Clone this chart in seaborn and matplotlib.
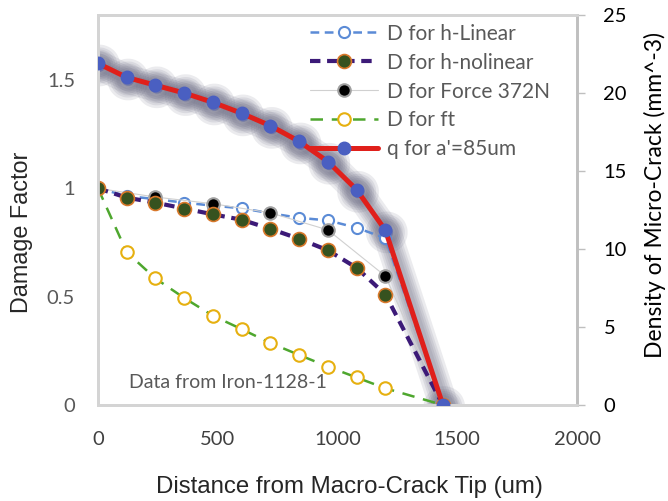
"""
Damage factor and micro-crack density vs distance from macro-crack tip.
"""

import numpy as np
import pandas as pd
import matplotlib
matplotlib.use("Agg")
import matplotlib.pyplot as plt
import matplotlib.patheffects as pe
from matplotlib.lines import Line2D
import seaborn as sns

# ---- data ----
distance = [0, 120, 240, 360, 480, 600, 720, 840, 960, 1080, 1200, 1440]
d_h_linear = [1.0, 0.965, 0.95, 0.934, 0.92, 0.908, 0.885, 0.864, 0.852, 0.818, 0.77, 0.0]
d_h_nolinear = [1.0, 0.957, 0.934, 0.907, 0.88, 0.855, 0.813, 0.767, 0.714, 0.633, 0.51, 0.0]
force_distance = [0, 240, 480, 720, 960, 1200, 1440]
d_force_372 = [1.0, 0.96, 0.929, 0.887, 0.808, 0.595, 0.0]
d_ft = [1.0, 0.705, 0.584, 0.494, 0.412, 0.35, 0.286, 0.231, 0.177, 0.127, 0.077, 0.0]
q_density = [21.9, 21.0, 20.5, 20.0, 19.4, 18.7, 17.9, 16.9, 15.6, 13.8, 11.2, 0.0]

labels = ["D for h-Linear", "D for h-nolinear", "D for Force 372N",
          "D for ft", "q for a'=85um"]

sns.set_style("white")
plt.rcParams["font.family"] = ["Lato", "DejaVu Sans"]

fig = plt.figure(figsize=(6.68, 5.01), dpi=100)
ax = fig.add_axes([0.1467, 0.1916, 0.7171, 0.7784])
ax2 = ax.twinx()

# h-linear
lin_style = dict(color="#5b8bd6", linestyle=(0, (3.5, 2.2)), linewidth=1.8,
                 marker="o", markersize=8, markerfacecolor="white",
                 markeredgecolor="#5b8bd6", markeredgewidth=1.5)
sns.lineplot(x=distance, y=d_h_linear, ax=ax, zorder=2, **lin_style)

# force 372N
force_style = dict(color="#d0d0d0", linestyle="-", linewidth=0.8,
                   marker="o", markersize=9, markerfacecolor="black",
                   markeredgecolor="#a0a0a0", markeredgewidth=1.5)
sns.lineplot(x=force_distance, y=d_force_372, ax=ax, zorder=3, **force_style)

# h-nolinear
nolin_style = dict(color="#3c1a78", linestyle=(0, (2.5, 1.6)), linewidth=3.0,
                   marker="o", markersize=10, markerfacecolor="#36521f",
                   markeredgecolor="#d9782a", markeredgewidth=1.2)
sns.lineplot(x=distance, y=d_h_nolinear, ax=ax, zorder=4, **nolin_style)

# ft
ft_style = dict(color="#4ea72e", linestyle=(0, (5, 3.5)), linewidth=1.8,
                marker="o", markersize=9, markerfacecolor="white",
                markeredgecolor="#e6b010", markeredgewidth=1.5)
sns.lineplot(x=distance, y=d_ft, ax=ax, zorder=1, **ft_style)

# q: soft shadow drawn on the left axes (below the D series) in the
# right axis' coordinates, then the line itself on the right axis
q_style = dict(color="#e0201b", linestyle="-", linewidth=3.6,
               marker="o", markersize=9, markerfacecolor="#4a5fc1",
               markeredgecolor="#4a5fc1", markeredgewidth=1)
shadow = [pe.Stroke(offset=(1, -1.5), linewidth=w, foreground="#66667f",
                    alpha=0.13)
          for w in (21, 17, 14, 11, 8)]
sns.lineplot(x=distance, y=q_density, ax=ax, zorder=0.5,
             transform=ax2.transData, path_effects=shadow, **q_style)
sns.lineplot(x=distance, y=q_density, ax=ax2, zorder=5, **q_style)

# ---- axes ----
ax.set_xlim(0, 2000)
ax.set_ylim(0, 1.8)
ax2.set_ylim(0, 25)
ax.set_xticks([0, 500, 1000, 1500, 2000])
ax.set_yticks([0, 0.5, 1, 1.5])
ax.set_yticklabels(["0", "0.5", "1", "1.5"])
ax2.set_yticks([0, 5, 10, 15, 20, 25])

ax.tick_params(axis="x", length=0, pad=19, labelsize=14.5, labelcolor="#404040")
ax.tick_params(axis="y", length=0, pad=16.5, labelsize=14.5, labelcolor="#595959")
ax2.tick_params(axis="y", length=6, width=1, color="#bfbfbf", pad=13,
                labelsize=14.5, labelcolor="black")

for a in (ax, ax2):
    for side in ("left", "right", "top", "bottom"):
        a.spines[side].set_color("#d4d4d4")
        a.spines[side].set_linewidth(2)
ax2.spines["right"].set_color("#bfbfbf")

ax.set_xlabel("Distance from Macro-Crack Tip (um)", fontsize=17.3,
              family="Liberation Sans")
ax.xaxis.set_label_coords(0.524, -0.211)
ax.xaxis.label.set_va("center")
ax.set_ylabel("Damage Factor", fontsize=16.8, family="Liberation Sans")
ax.yaxis.set_label_coords(-0.159, 0.444)
ax.yaxis.label.set_va("center")

ax2.set_ylabel("Density of Micro-Crack (mm^-3)", fontsize=16.5, color="black")
ax2.yaxis.set_label_coords(1.163, 0.538)
ax2.yaxis.label.set_va("center")

ax.text(0.064, 0.044, "Data from Iron-1128-1", transform=ax.transAxes,
        fontsize=14, color="#595959", va="baseline")

# ---- legend (proxies keep the shadow out of the key) ----
handles = [Line2D([], [], **s) for s in
           (lin_style, nolin_style, force_style, ft_style, q_style)]
leg = ax2.legend(handles, labels, loc="upper left",
                 bbox_to_anchor=(0.4426, 0.978), frameon=False,
                 borderpad=0, borderaxespad=0, handlelength=3.27,
                 handletextpad=0.43, labelspacing=0.43, fontsize=15)
for t in leg.get_texts():
    t.set_color("#595959")

fig.savefig("out.png", dpi=100)
plt.close(fig)
